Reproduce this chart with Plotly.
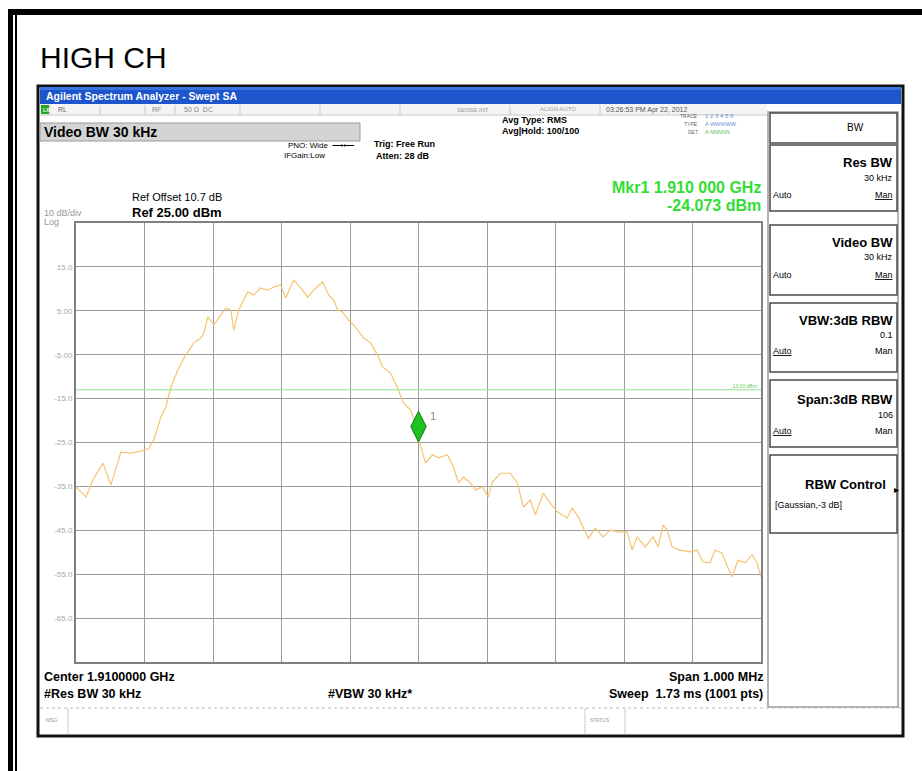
import plotly.graph_objects as go

W, H = 922, 771

# ---------------- data ----------------
center_mhz = 1910.0
span_mhz = 1.0
ref_level = 25.0
db_per_div = 10.0
freq_offset_khz = [-500.0, -485.4, -475.2, -460.6, -449.0, -434.4, -419.8, -400.9, -393.6, -386.3,
                   -376.1, -368.8, -361.5, -351.3, -342.6, -328.0, -317.8, -313.4, -307.6, -298.8,
                   -291.5, -281.3, -274.0, -269.7, -262.4, -249.3, -240.5, -230.3, -220.1, -211.4,
                   -201.2, -193.9, -182.2, -172.0, -161.8, -153.1, -140.0, -131.2, -123.9, -118.1,
                   -110.8, -102.0, -91.8, -80.2, -70.0, -59.8, -52.5, -40.8, -30.6, -21.9,
                   -11.7, -4.4, 0.0, 10.2, 20.4, 29.1, 42.3, 51.0, 58.3, 65.6,
                   75.8, 83.1, 93.3, 102.0, 107.9, 119.5, 134.1, 144.3, 153.1, 163.3,
                   170.5, 182.2, 192.4, 202.6, 217.2, 224.5, 233.2, 247.8, 258.0, 269.7,
                   279.9, 291.5, 304.6, 311.9, 319.2, 330.9, 342.5, 349.8, 357.1, 363.0,
                   370.3, 381.9, 396.5, 406.7, 415.4, 425.6, 432.9, 443.1, 451.9, 457.7,
                   466.4, 476.7, 486.9, 494.2, 500.0]
level_dbm = [-35.1, -37.4, -33.5, -29.7, -34.7, -27.2, -27.4, -26.8, -26.3, -24.4,
             -19.2, -16.9, -12.4, -8.5, -5.8, -2.3, -1.2, -0.1, 3.6, 1.8,
             3.4, 5.6, 5.2, 0.6, 5.2, 9.3, 8.6, 10.2, 9.7, 10.4,
             10.9, 7.9, 12.0, 10.2, 8.1, 9.7, 11.6, 8.6, 7.5, 5.2,
             4.7, 2.9, 1.3, -1.2, -2.3, -5.1, -7.8, -9.2, -12.6, -16.0,
             -17.6, -20.6, -24.073, -29.7, -27.8, -28.5, -27.8, -30.6, -34.2, -32.9,
             -34.2, -35.8, -35.1, -37.4, -34.0, -32.0, -32.0, -34.2, -39.7, -38.1,
             -41.5, -36.5, -38.8, -40.8, -42.2, -39.9, -42.0, -46.8, -44.5, -46.5,
             -44.9, -45.4, -45.4, -49.5, -46.5, -48.8, -46.5, -48.8, -43.8, -44.9,
             -48.8, -49.5, -49.9, -49.5, -52.2, -52.4, -49.5, -50.2, -53.6, -55.6,
             -51.8, -52.4, -50.6, -52.4, -55.6]
y_tick_vals = [15, 5, -5, -15, -25, -35, -45, -55, -65]
y_tick_text = ["15.0", "5.00", "-5.00", "-15.0", "-25.0", "-35.0", "-45.0", "-55.0", "-65.0"]
display_line_dbm = -13.0
marker_offset_khz = 0.0
marker_level_dbm = -24.073

freq_mhz = [center_mhz + f / 1000.0 for f in freq_offset_khz]
x0 = center_mhz - span_mhz / 2
x1 = center_mhz + span_mhz / 2
y_top = ref_level
y_bot = ref_level - 10 * db_per_div

# ---------------- helpers ----------------
def px(x):
    return x / W

def py(y):
    return 1 - y / H

PL, PR, PT, PB = 76, 761, 223, 662

fig = go.Figure()

fig.add_trace(go.Scatter(x=freq_mhz, y=level_dbm, mode="lines",
                         line=dict(color="#f5c470", width=1.2),
                         hoverinfo="skip", showlegend=False))

# display line
fig.add_trace(go.Scatter(x=[x0, x1], y=[display_line_dbm, display_line_dbm], mode="lines",
                         line=dict(color="#8fe28f", width=1), hoverinfo="skip", showlegend=False))

# marker diamond (tip sits on the trace point)
mk_x = center_mhz + marker_offset_khz / 1000.0
fig.add_trace(go.Scatter(x=[mk_x], y=[marker_level_dbm + 2.7], mode="markers",
                         marker=dict(symbol="diamond-tall", size=22, color="#1fc21f",
                                     line=dict(color="#0a7a0a", width=1)),
                         hoverinfo="skip", showlegend=False))

fig.update_layout(
    width=W, height=H, margin=dict(l=0, r=0, t=0, b=0),
    paper_bgcolor="white", plot_bgcolor="white",
    showlegend=False,
    xaxis=dict(domain=[px(PL), px(PR)], range=[x0, x1], dtick=span_mhz / 10, tick0=x0,
               showticklabels=False, ticks="", showgrid=True, gridcolor="#9c9c9c", gridwidth=1,
               zeroline=False, showline=True, linecolor="#808080", linewidth=2, mirror=True),
    yaxis=dict(domain=[py(PB), py(PT)], range=[y_bot, y_top], tickvals=y_tick_vals, ticktext=y_tick_text,
               tickfont=dict(family="Liberation Sans, Arial", size=8, color="#a8a8a8"),
               ticks="", showgrid=True, gridcolor="#9c9c9c", gridwidth=1, zeroline=False,
               showline=True, linecolor="#808080", linewidth=2, mirror=True),
    font=dict(family="Liberation Sans, Arial, sans-serif"),
)

shapes = []
def rect(xa, ya, xb, yb, fill=None, line=None, lw=0, layer="below"):
    shapes.append(dict(type="rect", xref="paper", yref="paper", x0=px(xa), x1=px(xb), y0=py(yb), y1=py(ya),
                       fillcolor=fill if fill else "rgba(0,0,0,0)",
                       line=dict(color=line if line else "rgba(0,0,0,0)", width=lw), layer=layer))

def hline(xa, xb, y, color, w=1, dash=None):
    shapes.append(dict(type="line", xref="paper", yref="paper", x0=px(xa), x1=px(xb), y0=py(y), y1=py(y),
                       line=dict(color=color, width=w, dash=dash) if dash else dict(color=color, width=w)))

def vline(x, ya, yb, color, w=1):
    shapes.append(dict(type="line", xref="paper", yref="paper", x0=px(x), x1=px(x), y0=py(yb), y1=py(ya),
                       line=dict(color=color, width=w)))

# document borders
rect(8, 9, 13, H, fill="black")
rect(15, 15, 17, H, fill="black")
rect(8, 9, W, 15, fill="black")

# screenshot frame
rect(38, 86, 903, 736, fill="white", line="#111111", lw=3)
# title bar
rect(40, 87, 901, 104, fill="#1d55cc")
rect(40, 87, 901, 90, fill="#3a74e0")
# status row
rect(40, 104, 767, 115, fill="#f4f4f4")
hline(40, 767, 115, "#c8c8c8")
for sx in [50, 100, 145, 175, 240, 320, 400, 510, 600]:
    vline(sx, 105, 115, "#c8c8c8")
rect(41, 105, 49, 114, fill="#22a822")
# Video BW box
rect(40, 123, 360, 141, fill="#d4d4d4", line="#9a9a9a", lw=1)

# right panel
rect(768, 112, 898, 707, fill="white", line="#9a9a9a", lw=1.5)
for (ya, yb) in [(113, 143), (145, 211), (225, 295), (303, 372), (380, 447), (455, 533)]:
    rect(770, ya, 897, yb, fill="white", line="#4a4a4a", lw=1.5)

# bottom status bar
hline(40, 901, 708, "#bdbdbd", 1, "dot")
vline(68, 708, 734, "#c8c8c8")
vline(585, 708, 734, "#c8c8c8")
vline(625, 708, 734, "#c8c8c8")

fig.update_layout(shapes=shapes)

ann = []
def text(x, y, s, size=10, color="black", anchor="left", bold=False, family=None):
    ann.append(dict(xref="paper", yref="paper", x=px(x), y=py(y), text=("<b>%s</b>" % s) if bold else s,
                    showarrow=False, xanchor=anchor, yanchor="middle",
                    font=dict(size=size, color=color,
                              family=family or "Liberation Sans, Arial, sans-serif")))

text(38, 58, "HIGH CH", 30, family="Liberation Sans Narrow, Arial Narrow, Liberation Sans, Arial")
text(44, 96, "Agilent Spectrum Analyzer - Swept SA", 10.5, "white", bold=True)
text(41, 110, "LXI", 5, "white", bold=True)
text(56, 110, "RL", 7, "#666666")
text(150, 110, "RF", 7, "#888888")
text(182, 110, "50 Ω  DC", 7, "#888888")
text(455, 110, "SENSE:INT", 6, "#999999")
text(538, 109, "ALIGN AUTO", 6, "#999999")
text(604, 110, "03:26:53 PM Apr 22, 2012", 7, "#555555")
text(42, 132, "Video BW 30 kHz", 14, bold=True)
text(500, 120, "Avg Type: RMS", 9, bold=True)
text(500, 131, "Avg|Hold: 100/100", 9, bold=True)
text(700, 116, "TRACE", 5, "#666666", anchor="right")
text(703, 116, "1 2 3 4 5 6", 6, "#6c8fd0")
text(700, 124, "TYPE", 5, "#666666", anchor="right")
text(703, 124, "A WWWWW", 5.5, "#6c8fd0")
text(700, 132, "DET", 5, "#666666", anchor="right")
text(703, 132, "A NNNNN", 5.5, "#5ec05e")
text(357, 145, "PNO: Wide  ⟶⟵", 8, anchor="right")
text(282, 156, "IFGain:Low", 8)
text(372, 144, "Trig: Free Run", 9, bold=True)
text(374, 156, "Atten: 28 dB", 9, bold=True)
text(763, 187, "Mkr1 1.910 000 GHz", 16, "#33dd33", anchor="right", bold=True)
text(763, 206, "-24.073 dBm", 16, "#33dd33", anchor="right", bold=True)
text(130, 197, "Ref Offset 10.7 dB", 11)
text(130, 212, "Ref 25.00 dBm", 13, bold=True)
text(42, 213, "10 dB/div", 9, "#999999")
text(42, 222, "Log", 9, "#999999")
text(759, 386, "-13.00 dBm", 5, "#66cc66", anchor="right")
text(428, 416, "1", 11, "#888888")

text(42, 677, "Center 1.9100000 GHz", 12.5, bold=True)
text(42, 694, "#Res BW 30 kHz", 12.5, bold=True)
text(370, 694, "#VBW 30 kHz*", 12.5, anchor="center", bold=True)
text(765, 677, "Span 1.000 MHz", 12.5, anchor="right", bold=True)
text(765, 694, "Sweep  1.73 ms (1001 pts)", 12.5, anchor="right", bold=True)
text(44, 720, "MSG", 5, "#999999")
text(588, 720, "STATUS", 5, "#999999")

# right panel texts
text(855, 128, "BW", 10, anchor="center")
text(895, 162, "Res BW", 13, anchor="right", bold=True)
text(895, 178, "30 kHz", 9, anchor="right")
text(771, 195, "Auto", 9)
text(895, 195, "<u>Man</u>", 9, anchor="right")
text(895, 242, "Video BW", 13, anchor="right", bold=True)
text(895, 257, "30 kHz", 9, anchor="right")
text(771, 275, "Auto", 9)
text(895, 275, "<u>Man</u>", 9, anchor="right")
text(895, 320, "VBW:3dB RBW", 13, anchor="right", bold=True)
text(895, 335, "0.1", 9, anchor="right")
text(771, 351, "<u>Auto</u>", 9)
text(895, 351, "Man", 9, anchor="right")
text(895, 399, "Span:3dB RBW", 13, anchor="right", bold=True)
text(895, 415, "106", 9, anchor="right")
text(771, 431, "<u>Auto</u>", 9)
text(895, 431, "Man", 9, anchor="right")
text(888, 484, "RBW Control", 13, anchor="right", bold=True)
text(892, 490, "▸", 10, anchor="left")
text(773, 505, "[Gaussian,-3 dB]", 9)

fig.update_layout(annotations=ann)
fig.write_html("out.html", config={"displayModeBar": False},
               post_script="document.body.style.margin='0';document.body.style.overflow='hidden';"
                           "window.dispatchEvent(new Event('resize'));")
